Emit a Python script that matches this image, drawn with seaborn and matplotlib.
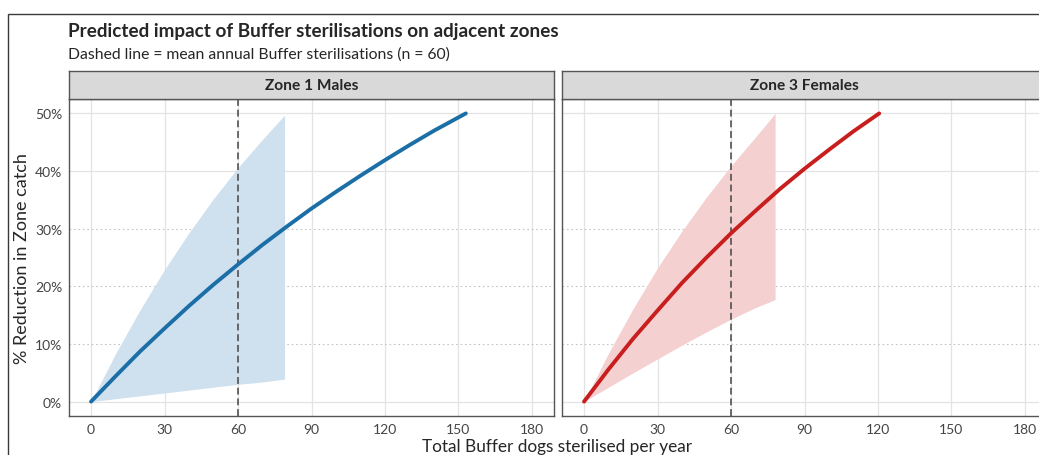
import matplotlib
matplotlib.use("Agg")
import matplotlib.pyplot as plt
import numpy as np
import pandas as pd
import seaborn as sns

# Predicted % reduction in zone catch vs Buffer dogs sterilised per year
panels = ["Zone 1 Males", "Zone 3 Females"]

z1_x = [0, 10, 20, 30, 40, 50, 60, 70, 80, 90, 100, 110, 120, 130, 140, 153]
z1_y = [0, 4.4, 8.7, 12.7, 16.6, 20.3, 23.8, 27.2, 30.4, 33.5, 36.4, 39.2, 41.9, 44.5, 47.0, 50.0]
z1_band_x = [0, 10, 20, 30, 40, 50, 60, 70, 79]
z1_lo = [0, 0.5, 1.0, 1.5, 2.0, 2.5, 3.0, 3.4, 3.9]
z1_hi = [0, 8.3, 15.9, 22.9, 29.3, 35.2, 40.6, 45.5, 49.7]

z3_x = [0, 10, 20, 30, 40, 50, 60, 70, 80, 90, 100, 110, 120.5]
z3_y = [0, 5.6, 10.9, 15.8, 20.6, 25.0, 29.2, 33.1, 36.9, 40.4, 43.7, 46.9, 50.0]
z3_band_x = [0, 10, 20, 30, 40, 50, 60, 70, 78]
z3_lo = [0, 2.5, 5.0, 7.4, 9.8, 12.1, 14.3, 16.3, 17.7]
z3_hi = [0, 8.4, 16.1, 23.2, 29.6, 35.5, 40.9, 45.9, 50.0]

mean_sterilised = 60
x_ticks = [0, 30, 60, 90, 120, 150, 180]
y_ticks = [0, 10, 20, 30, 40, 50]
y_labels = ["0%", "10%", "20%", "30%", "40%", "50%"]

curves = pd.concat([
    pd.DataFrame({"panel": panels[0], "x": z1_x, "y": z1_y}),
    pd.DataFrame({"panel": panels[1], "x": z3_x, "y": z3_y}),
])
bands = {
    panels[0]: pd.DataFrame({"x": z1_band_x, "lo": z1_lo, "hi": z1_hi}),
    panels[1]: pd.DataFrame({"x": z3_band_x, "lo": z3_lo, "hi": z3_hi}),
}
line_colors = {panels[0]: "#1b6fa6", panels[1]: "#c81e1e"}
band_colors = {panels[0]: "#cfe0ef", panels[1]: "#f4d0d1"}

sns.set_style("white")
plt.rcParams["font.family"] = ["Lato", "DejaVu Sans"]

W, H = 1039, 456
fig = plt.figure(figsize=(W / 100, H / 100), dpi=100)

# outer frame of the graphic
fig.patches.append(plt.Rectangle((8 / W, -0.1), 1.2, 1 - 15 / H + 0.1,
                                 transform=fig.transFigure, fill=False,
                                 edgecolor="#3a3a3a", linewidth=1.0))

fig.text(68 / W, 1 - 31 / H, "Predicted impact of Buffer sterilisations on adjacent zones",
         fontsize=13.6, fontweight="bold", va="center", ha="left")
fig.text(68 / W, 1 - 55 / H, "Dashed line = mean annual Buffer sterilisations (n = 60)",
         fontsize=11.3, va="center", ha="left")

lefts = [69, 562]
for left, name in zip(lefts, panels):
    ax = fig.add_axes([left / W, 1 - 417 / H, 485 / W, 317 / H])
    band = bands[name]
    ax.fill_between(band["x"], band["lo"], band["hi"], color=band_colors[name],
                    linewidth=0, zorder=1)
    ax.axvline(mean_sterilised, color="#444444", linestyle=(0, (4.5, 2.5)),
               linewidth=1.1, zorder=2)
    sns.lineplot(data=curves[curves["panel"] == name], x="x", y="y", ax=ax,
                 color=line_colors[name], linewidth=2.8, zorder=3,
                 estimator=None, sort=False)
    ax.set_xlim(-9, 189)
    ax.set_ylim(-2.5, 52.5)
    ax.set_xticks(x_ticks)
    ax.set_yticks(y_ticks)
    ax.set_xticklabels([str(t) for t in x_ticks])
    ax.set_yticklabels(y_labels if left == lefts[0] else [])
    ax.tick_params(axis="both", length=3, width=0.8, color="#444444",
                   labelcolor="#444444", labelsize=10, pad=2)
    if left != lefts[0]:
        ax.tick_params(axis="y", length=0)
    ax.set_xlabel("")
    ax.set_ylabel("")
    for t in x_ticks:
        ax.axvline(t, color="#e3e3e3", linewidth=0.9, zorder=0)
    for t in y_ticks:
        if t in (10, 20, 30):
            ax.axhline(t, color="#c4c4c4", linewidth=0.8, linestyle=(0, (1.5, 2.5)), zorder=0)
        else:
            ax.axhline(t, color="#e3e3e3", linewidth=0.9, zorder=0)
    for sp in ax.spines.values():
        sp.set_color("#555555")
        sp.set_linewidth(1.0)

    strip = fig.add_axes([left / W, 1 - 100 / H, 485 / W, 28 / H])
    strip.set_facecolor("#d9d9d9")
    strip.set_xticks([])
    strip.set_yticks([])
    for sp in strip.spines.values():
        sp.set_color("#555555")
        sp.set_linewidth(1.0)
    strip.text(0.5, 0.5, name, transform=strip.transAxes, ha="center", va="center",
               fontsize=11.2, fontweight="bold")

fig.text(22 / W, 1 - 259 / H, "% Reduction in Zone catch", rotation=90,
         fontsize=13, va="center", ha="center")
fig.text(557 / W, 1 - 447 / H, "Total Buffer dogs sterilised per year",
         fontsize=12.4, va="center", ha="center")

fig.savefig("out.png", dpi=100)
